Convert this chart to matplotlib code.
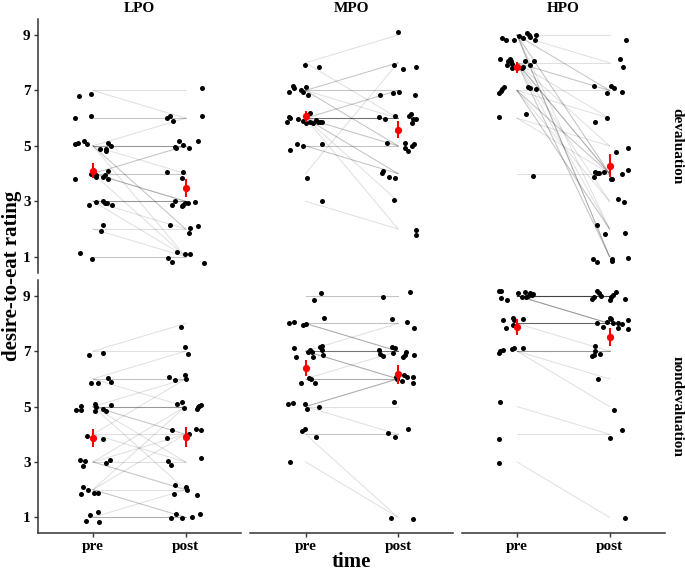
import matplotlib
matplotlib.use("Agg")
import matplotlib.pyplot as plt
import numpy as np

plt.rcParams['font.family'] = ['Liberation Serif', 'DejaVu Serif']

times = ["pre", "post"]
groups = ["LPO", "MPO", "HPO"]
conditions = ["devaluation", "nondevaluation"]
rating_ticks = [1, 3, 5, 7, 9]

# paired ratings, one entry per participant (pre -> post)
lpo_dev_pre = [7, 7, 6, 6] + [5] * 9 + [4] * 8 + [3] * 6 + [2, 2, 1, 1]
lpo_dev_post = [7, 6, 6, 6, 6, 5, 5, 5, 5, 4, 1, 2, 2, 5, 5, 4, 4, 3, 3, 3, 1,
                3, 3, 3, 3, 2, 1, 2, 1, 1, 1]

mpo_dev_pre = [8, 8] + [7] * 7 + [6] * 14 + [5] * 4 + [4, 3]
mpo_dev_post = [9, 6, 8, 8, 7, 7, 6, 5, 5, 7, 7, 6, 6, 6, 6, 6, 6, 5, 5, 4, 4, 3, 2,
                5, 5, 4, 4, 8, 2]

hpo_dev_pre = [9] * 10 + [8] * 12 + [7] * 7 + [6, 6, 4]
hpo_dev_post = [9, 8, 7, 7, 4, 4, 2, 1, 1, 1,
                8, 7, 7, 6, 5, 4, 4, 4, 3, 2, 1, 1,
                7, 6, 4, 4, 3, 2, 2, 5, 4, 4]

lpo_non_pre = [7, 7] + [6] * 4 + [5] * 9 + [4] * 3 + [3] * 5 + [2] * 5 + [1] * 4
lpo_non_post = [8, 7, 7, 6, 6, 5, 6, 5, 5, 5, 5, 4, 4, 3, 2, 6, 4, 3,
                5, 4, 3, 2, 2, 5, 4, 2, 1, 1, 2, 1, 1, 1]

mpo_non_pre = [9, 9] + [8] * 5 + [7] * 10 + [6] * 4 + [5] * 5 + [4] * 3 + [3]
mpo_non_post = [9, 9, 8, 8, 7, 7, 7, 8, 7, 7, 7, 7, 7, 7, 6, 6, 6,
                7, 6, 6, 6, 6, 6, 6, 5, 4, 4, 4, 1, 1]

hpo_non_pre = [9] * 14 + [8] * 8 + [7] * 6 + [5, 4, 3]
hpo_non_post = [9] * 10 + [8] * 4 + [8] * 7 + [7] + [7] * 4 + [6, 5] + [4, 4, 1]

# jittered dots as they are drawn: (time position, rating)
lpo_dev_pts_pre = [(0.85, 6.79), (0.98, 6.88), (0.80, 5.99), (0.98, 6.08), (0.81, 5.08), (0.84, 5.12),
                   (0.90, 5.17), (0.93, 5.08), (1.16, 5.11), (1.08, 4.90), (1.19, 5.00), (1.14, 4.90),
                   (1.14, 4.81), (0.81, 3.82), (0.98, 3.97), (1.03, 3.95), (1.03, 3.87), (1.11, 3.86),
                   (1.13, 3.96), (1.16, 4.09), (1.16, 3.81), (0.96, 2.85), (1.03, 2.98), (1.11, 3.02),
                   (1.13, 2.94), (1.15, 2.94), (1.20, 2.87), (1.11, 2.14), (1.09, 1.93), (0.86, 1.13),
                   (0.99, 0.93)]
lpo_dev_pts_post = [(2.18, 7.08), (1.80, 5.99), (1.83, 6.07), (1.86, 5.91), (2.18, 6.07), (1.93, 5.17),
                    (1.97, 5.04), (2.14, 5.17), (1.89, 4.96), (1.90, 4.92), (2.04, 4.92), (1.80, 4.04),
                    (1.97, 4.04), (1.96, 3.84), (1.89, 3.02), (1.85, 2.85), (1.96, 2.82), (1.97, 2.88),
                    (1.99, 2.92), (2.03, 2.94), (2.10, 2.96), (1.83, 2.14), (2.05, 2.04), (2.13, 2.10),
                    (2.04, 1.85), (1.91, 1.15), (1.81, 0.96), (1.85, 0.81), (1.99, 1.08), (2.05, 1.08),
                    (2.20, 0.78)]

mpo_dev_pts_pre = [(0.99, 7.91), (1.15, 7.84), (0.86, 7.17), (0.88, 7.08), (0.82, 6.94), (0.95, 7.01),
                   (0.97, 6.94), (1.01, 7.11), (1.03, 6.85), (0.82, 6.03), (0.83, 5.99), (0.80, 5.87),
                   (0.92, 5.97), (0.97, 5.88), (1.00, 5.82), (1.05, 6.18), (1.05, 5.85), (1.08, 5.82),
                   (1.11, 5.95), (1.13, 5.87), (1.16, 5.85), (1.18, 5.85), (0.91, 5.07), (0.97, 5.00),
                   (1.18, 5.07), (0.83, 4.85), (1.02, 3.85), (1.18, 3.02)]
mpo_dev_pts_post = [(2.00, 9.10), (1.96, 7.93), (2.05, 7.79), (2.19, 7.85), (1.81, 6.84), (1.95, 6.92),
                    (2.01, 6.96), (2.18, 6.82), (1.80, 6.04), (1.86, 5.96), (1.97, 6.07), (2.12, 6.07),
                    (2.14, 6.15), (2.16, 5.97), (2.20, 5.97), (2.15, 5.82), (1.88, 5.10), (2.08, 5.10),
                    (2.17, 5.05), (2.15, 5.00), (2.08, 4.92), (2.11, 4.81), (1.84, 4.09), (1.83, 4.01),
                    (1.90, 3.87), (1.97, 3.85), (1.96, 3.06), (2.19, 1.97), (2.19, 1.79)]

hpo_dev_pts_pre = [(0.84, 8.88), (0.88, 8.81), (0.97, 8.83), (1.02, 8.95), (1.07, 8.89), (1.11, 9.07),
                   (1.13, 9.00), (1.14, 8.92), (1.20, 9.01), (1.19, 8.84), (0.82, 8.14), (0.90, 8.08),
                   (0.92, 8.14), (0.89, 7.91), (0.95, 7.97), (0.95, 7.81), (1.05, 7.82), (1.07, 7.85),
                   (1.09, 8.08), (1.14, 7.91), (1.18, 8.05), (0.94, 8.05), (0.81, 6.90), (0.83, 6.99),
                   (0.84, 7.06), (0.86, 7.11), (1.12, 7.12), (1.14, 7.10), (1.20, 7.04), (0.80, 6.03),
                   (1.10, 6.14), (1.17, 3.91)]
hpo_dev_pts_post = [(2.18, 8.84), (2.11, 8.14), (2.15, 7.85), (1.83, 7.17), (1.97, 6.90), (2.02, 7.15),
                    (2.05, 7.08), (2.14, 6.95), (1.84, 5.87), (1.97, 5.99), (2.07, 4.78), (2.20, 4.92),
                    (1.84, 4.07), (1.86, 4.03), (1.89, 4.03), (1.94, 4.05), (1.83, 3.88), (2.02, 3.81),
                    (2.03, 3.81), (2.14, 3.97), (2.20, 4.12), (2.09, 3.07), (2.16, 2.96), (1.86, 2.14),
                    (1.95, 1.82), (2.17, 1.85), (1.82, 0.90), (1.87, 0.79), (2.03, 0.92), (2.03, 0.85),
                    (2.20, 0.95)]

lpo_non_pts_pre = [(0.96, 6.87), (1.11, 6.92), (1.16, 6.04), (0.98, 5.84), (1.05, 5.84), (1.19, 5.90),
                   (0.82, 4.89), (0.87, 5.01), (0.87, 4.89), (1.02, 5.11), (1.03, 4.99), (1.02, 4.85),
                   (1.11, 4.93), (1.14, 4.83), (1.19, 5.04), (0.94, 3.94), (1.11, 3.84), (0.86, 3.08),
                   (0.91, 3.03), (0.89, 2.84), (1.14, 2.95), (1.18, 3.08), (0.89, 2.08), (0.95, 2.00),
                   (0.87, 1.85), (1.01, 1.87), (1.05, 1.89), (0.97, 1.07), (1.05, 1.21), (0.92, 0.88),
                   (1.07, 0.82)]
lpo_non_pts_post = [(1.95, 7.89), (1.99, 7.16), (2.03, 6.90), (1.82, 6.05), (1.89, 5.96), (1.99, 6.14),
                    (2.01, 5.99), (1.91, 5.09), (1.96, 5.17), (1.98, 4.95), (2.12, 4.91), (2.13, 4.97),
                    (2.15, 5.01), (2.17, 5.04), (1.85, 4.14), (1.80, 3.87), (2.04, 4.02), (2.11, 4.18),
                    (2.17, 4.14), (1.81, 3.02), (1.84, 2.90), (2.17, 3.15), (1.89, 2.18), (2.00, 2.09),
                    (2.02, 2.00), (1.88, 1.83), (2.12, 1.81), (1.90, 1.13), (1.84, 0.99), (1.96, 0.98),
                    (2.07, 1.00), (2.16, 1.11)]

mpo_non_pts_pre = [(1.17, 9.10), (1.09, 8.84), (0.82, 8.01), (0.88, 8.07), (0.97, 7.94), (1.01, 7.99),
                   (1.20, 8.18), (0.88, 7.10), (0.90, 6.80), (1.03, 6.98), (1.05, 7.04), (1.07, 6.98),
                   (1.08, 6.80), (1.16, 7.16), (1.18, 7.04), (1.18, 7.19), (1.19, 6.86), (1.04, 6.04),
                   (1.06, 5.99), (0.95, 5.84), (1.10, 5.84), (0.81, 5.11), (0.87, 5.14), (0.99, 5.10),
                   (1.02, 4.92), (1.15, 4.99), (0.96, 4.12), (0.99, 4.19), (1.11, 3.90), (0.83, 2.99)]
mpo_non_pts_post = [(1.84, 8.95), (2.13, 9.13), (1.94, 8.15), (2.10, 8.06), (2.17, 7.82), (1.79, 7.04),
                    (1.81, 6.90), (1.84, 6.83), (1.93, 7.15), (1.97, 7.12), (1.95, 6.95), (2.05, 6.80),
                    (2.08, 6.85), (2.09, 6.98), (2.17, 6.85), (1.98, 6.08), (1.99, 5.98), (2.04, 5.92),
                    (2.07, 6.13), (2.10, 6.08), (2.16, 6.08), (2.16, 5.86), (2.00, 6.14), (1.96, 5.16),
                    (1.89, 4.04), (1.97, 3.90), (2.11, 4.19), (1.92, 0.98), (2.16, 0.94)]

hpo_non_pts_pre = [(0.80, 9.18), (0.83, 9.16), (0.83, 8.92), (0.89, 8.83), (1.01, 9.10), (1.05, 8.95),
                   (1.09, 9.14), (1.10, 8.95), (1.12, 8.98), (1.14, 9.10), (1.16, 9.02), (1.17, 9.06),
                   (0.85, 8.13), (0.96, 8.19), (0.97, 8.13), (1.07, 8.17), (0.88, 7.85), (0.96, 7.95),
                   (0.81, 6.92), (0.82, 7.01), (0.85, 7.04), (0.95, 7.07), (0.97, 7.13), (1.06, 7.13),
                   (0.82, 5.17), (0.80, 3.84), (0.81, 2.96)]
hpo_non_pts_post = [(1.86, 9.16), (1.89, 9.10), (1.91, 9.01), (2.07, 9.13), (2.04, 9.04), (2.00, 8.86),
                    (2.02, 8.95), (1.81, 8.88), (1.83, 8.94), (2.17, 8.88), (2.00, 8.19), (1.97, 8.07),
                    (2.02, 8.15), (2.04, 8.03), (2.09, 8.01), (2.14, 7.97), (2.20, 8.13), (2.09, 7.85),
                    (2.20, 7.80), (1.86, 8.00), (1.93, 7.89), (1.84, 7.19), (1.84, 7.01), (1.83, 6.86),
                    (1.81, 6.83), (1.90, 6.89), (1.88, 5.99), (2.05, 4.87), (2.13, 4.16), (2.01, 3.86),
                    (2.17, 0.99)]

panels = {
    ("devaluation", "LPO"): (lpo_dev_pre, lpo_dev_post, lpo_dev_pts_pre, lpo_dev_pts_post),
    ("devaluation", "MPO"): (mpo_dev_pre, mpo_dev_post, mpo_dev_pts_pre, mpo_dev_pts_post),
    ("devaluation", "HPO"): (hpo_dev_pre, hpo_dev_post, hpo_dev_pts_pre, hpo_dev_pts_post),
    ("nondevaluation", "LPO"): (lpo_non_pre, lpo_non_post, lpo_non_pts_pre, lpo_non_pts_post),
    ("nondevaluation", "MPO"): (mpo_non_pre, mpo_non_post, mpo_non_pts_pre, mpo_non_pts_post),
    ("nondevaluation", "HPO"): (hpo_non_pre, hpo_non_post, hpo_non_pts_pre, hpo_non_pts_post),
}

W, H = 685, 573
fig = plt.figure(figsize=(W / 100, H / 100), dpi=100)

# panel layout in pixels
col_left = [37.5, 250, 461.5]
panel_w = 203.5
row_top = [19.3, 280]
panel_h = 253.4
axis_col = '#333333'

for r, cond in enumerate(conditions):
    for c, grp in enumerate(groups):
        pre, post, pts_pre, pts_post = panels[(cond, grp)]
        ax = fig.add_axes([col_left[c] / W, 1 - (row_top[r] + panel_h) / H,
                           panel_w / W, panel_h / H])

        # connecting lines per participant
        for a, b in zip(pre, post):
            ax.plot([1, 2], [a, b], color='black', alpha=0.12, lw=0.75, zorder=1)

        for pts in (pts_pre, pts_post):
            arr = np.array(pts)
            ax.scatter(arr[:, 0], arr[:, 1], s=13, color='black', linewidths=0, zorder=3)

        means = [np.mean(pre), np.mean(post)]
        ses = [np.std(pre, ddof=1) / np.sqrt(len(pre)), np.std(post, ddof=1) / np.sqrt(len(post))]
        ax.errorbar([1, 2], means, yerr=ses, fmt='o', color='red', ms=4.2,
                    elinewidth=1.5, capsize=0, zorder=4)

        ax.set_xlim(0.4, 2.6)
        ax.set_ylim(0.42, 9.57)
        for s in ['top', 'right']:
            ax.spines[s].set_visible(False)
        ax.spines['left'].set_visible(c == 0)
        ax.spines['bottom'].set_visible(r == 1)
        ax.spines['left'].set_color(axis_col)
        ax.spines['bottom'].set_color(axis_col)
        ax.spines['left'].set_linewidth(1.1)
        ax.spines['bottom'].set_linewidth(1.1)

        ax.set_yticks(rating_ticks if c == 0 else [])
        ax.set_xticks([1, 2] if r == 1 else [])
        if c == 0:
            ax.set_yticklabels([str(t) for t in rating_ticks], fontweight='bold', fontsize=11)
        if r == 1:
            ax.set_xticklabels(times, fontweight='bold', fontsize=11)
        ax.tick_params(length=3, width=1, color=axis_col, pad=2)

        if r == 0:
            fig.text((col_left[c] + panel_w / 2) / W, 1 - 8 / H, grp, ha='center', va='center',
                     fontsize=11, fontweight='bold')
    fig.text(677 / W, 1 - (row_top[r] + panel_h / 2) / H, cond, rotation=270,
             ha='center', va='center', fontsize=11, fontweight='bold')

fig.text(12 / W, 1 - 276 / H, "desire-to-eat rating", rotation=90, ha='center', va='center',
         fontsize=15, fontweight='bold')
fig.text(351 / W, 1 - 562 / H, "time", ha='center', va='center', fontsize=15, fontweight='bold')

fig.savefig("out.png", dpi=100)
